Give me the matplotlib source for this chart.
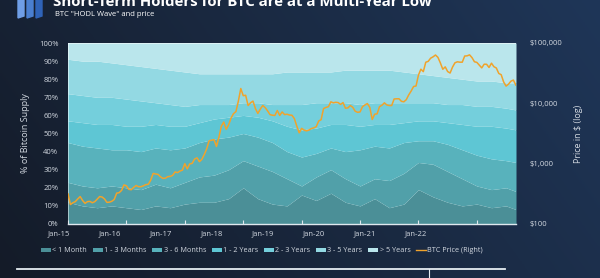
import numpy as np
import matplotlib
matplotlib.use("Agg")
import matplotlib.pyplot as plt
from matplotlib.patches import Patch, Polygon
from matplotlib.lines import Line2D

# HODL wave: cumulative tops of each band (% of supply), quarterly
t_bands = [2015.0, 2015.25, 2015.5, 2015.75, 2016.0, 2016.25, 2016.5, 2016.75,
           2017.0, 2017.25, 2017.5, 2017.75, 2018.0, 2018.25, 2018.5, 2018.75,
           2019.0, 2019.25, 2019.5, 2019.75, 2020.0, 2020.25, 2020.5, 2020.75,
           2021.0, 2021.25, 2021.5, 2021.75, 2022.0, 2022.25, 2022.5, 2022.67]
top_1m = [12, 10, 9, 10, 9, 8, 10, 9, 11, 12, 12, 14, 20, 14, 11, 10,
          16, 13, 17, 12, 10, 14, 9, 11, 19, 15, 12, 10, 11, 9, 10, 8]
top_3m = [23, 21, 20, 21, 20, 19, 22, 20, 23, 26, 27, 30, 35, 32, 29, 25,
          21, 26, 30, 25, 21, 25, 24, 28, 34, 33, 29, 25, 21, 19, 20, 18]
top_6m = [45, 43, 42, 41, 41, 40, 42, 41, 42, 45, 47, 48, 50, 48, 45, 40,
          37, 39, 42, 40, 41, 43, 42, 45, 46, 46, 44, 41, 38, 36, 35, 34]
top_2y = [57, 56, 55, 55, 54, 54, 55, 54, 54, 56, 58, 59, 60, 59, 57, 54,
          52, 53, 55, 55, 54, 55, 55, 56, 57, 57, 56, 55, 54, 54, 53, 52]
top_3y = [72, 71, 70, 70, 69, 68, 67, 66, 65, 66, 66, 66, 67, 67, 66, 66,
          66, 67, 67, 67, 66, 67, 67, 67, 67, 67, 66, 66, 65, 65, 64, 63]
top_5y = [91, 90, 90, 89, 88, 87, 86, 85, 84, 83, 83, 83, 83, 83, 83, 84,
          84, 84, 84, 85, 85, 85, 85, 84, 83, 82, 81, 80, 79, 79, 78, 78]

band_names = ["< 1 Month", "1 - 3 Months", "3 - 6 Months", "1 - 2 Years",
              "2 - 3 Years", "3 - 5 Years", "> 5 Years"]
band_colors = ["#4b8f97", "#51a0a9", "#58b2bc", "#5ec6d4",
               "#74cfdc", "#93d9e3", "#bae6ec"]

# BTC price, 1st and 15th of each month from Jan-15
btc_price = [315, 210, 225, 235, 260, 285, 245, 220, 235, 237, 225, 235,
             258, 285, 280, 260, 228, 230, 238, 255, 325, 330, 360, 445,
             430, 375, 370, 405, 435, 415, 415, 430, 450, 455, 535, 690,
             675, 665, 605, 570, 575, 610, 615, 640, 730, 710, 755, 780,
             1000, 820, 990, 1010, 1190, 1250, 1080, 1180, 1420, 1770, 2400, 2450,
             2500, 1930, 2730, 4180, 4900, 3700, 4400, 5700, 6750, 7300, 10900, 17600,
             13400, 13600, 9200, 10200, 10900, 8200, 6800, 8000, 9200, 8500, 7500, 6500,
             6350, 6300, 7600, 6300, 7200, 6500, 6600, 6400, 6350, 5600, 4200, 3250,
             3850, 3600, 3500, 3600, 3820, 3920, 4100, 5100, 5350, 8200, 8550, 8800,
             10600, 10200, 10400, 10300, 9600, 10300, 8300, 8400, 9200, 8600, 7400, 7100,
             7200, 8800, 9400, 9900, 8600, 5400, 6600, 6700, 8800, 9300, 10200, 9400,
             9200, 9200, 11800, 11900, 11900, 10800, 10600, 11500, 13800, 16000, 19000, 19400,
             29400, 36800, 33500, 48000, 49600, 56000, 59000, 63200, 57800, 46800, 36700, 40200,
             33600, 31800, 39900, 47000, 48800, 48100, 48100, 60800, 61300, 63600, 57200, 48900,
             47700, 43100, 38700, 44500, 44400, 39300, 46300, 40500, 38500, 31300, 29800, 22600,
             19300, 20800, 23300, 24300, 20100]
t_price = [2015 + i / 24 for i in range(len(btc_price))]

year_labels = ["Jan-15", "Jan-16", "Jan-17", "Jan-18", "Jan-19", "Jan-20", "Jan-21", "Jan-22"]
pct_labels = [f"{v}%" for v in range(0, 101, 10)]
price_ticks = [100, 1000, 10000, 100000]
price_labels = ["$100", "$1,000", "$10,000", "$100,000"]

txt = "#d2d8e0"
plt.rcParams["font.family"] = ["Open Sans", "DejaVu Sans"]

fig = plt.figure(figsize=(6, 2.78), dpi=100)

# dark gradient background
bg = fig.add_axes([0, 0, 1, 1])
gx = np.linspace(0, 1, 200)
gy = np.linspace(0, 1, 100)[:, None]
c0 = np.array([0x14, 0x1b, 0x28]) / 255
c1 = np.array([0x1f, 0x36, 0x58]) / 255
mix = np.clip(0.75 * gx[None, :] + 0.25 * gy, 0, 1)[..., None]
bg.imshow(c0 * (1 - mix) + c1 * mix, extent=[0, 1, 0, 1], aspect="auto", origin="lower")
bg.axis("off")

ax = fig.add_axes([68 / 600, 54 / 278, 448 / 600, 181 / 278])
lows = [np.zeros(len(t_bands))] + [np.array(a, float) for a in (top_1m, top_3m, top_6m, top_2y, top_3y, top_5y)]
highs = lows[1:] + [np.full(len(t_bands), 100.0)]
for lo, hi, c in zip(lows, highs, band_colors):
    ax.fill_between(t_bands, lo, hi, color=c, lw=0)

ax.set_xlim(2015.0, 2022.67)
ax.set_ylim(0, 100)
ax.set_yticks(range(0, 101, 10))
ax.set_yticklabels(pct_labels)
ax.set_xticks(range(2015, 2023))
ax.set_xticklabels([])
ax.tick_params(axis="y", length=0, labelsize=5.5, colors=txt, pad=7)
ax.tick_params(axis="x", direction="in", length=3, color="#e0e8ee", width=0.8)
for s in ("top", "left", "right"):
    ax.spines[s].set_visible(False)
ax.spines["bottom"].set_color("#dfe8ee")
ax.spines["bottom"].set_linewidth(1.0)
ax.set_ylabel("% of Bitcoin Supply", color=txt, fontsize=6.5, labelpad=6)

# x labels (sit a bit left of the tick marks in the original)
xtr = ax.get_xaxis_transform()
for k, lab in enumerate(year_labels):
    ax.text(2015 - 0.154 + 0.8716 * k, -0.055, lab, transform=xtr, ha="center", va="center",
            fontsize=5.5, color=txt, clip_on=False)

ax2 = ax.twinx()
ax2.plot(t_price, btc_price, color="#f0a32c", lw=1.1)
ax2.set_yscale("log")
ax2.set_ylim(100, 100000)
ax2.set_yticks(price_ticks)
ax2.set_yticklabels(price_labels)
ax2.minorticks_off()
ax2.tick_params(axis="y", length=0, labelsize=5.5, colors=txt, pad=10)
for s in ax2.spines.values():
    s.set_visible(False)
ax2.set_ylabel("Price in $ (log)", color=txt, fontsize=6.5, labelpad=8)

handles = [Patch(facecolor=c, edgecolor="none") for c in band_colors]
handles.append(Line2D([], [], color="#f0a32c", lw=1.0))
leg = fig.legend(handles, band_names + ["BTC Price (Right)"], loc="center",
                 bbox_to_anchor=(262 / 600, 1 - 251 / 278), ncol=8, frameon=False,
                 fontsize=5.2, handlelength=1.4, handleheight=0.6, handletextpad=0.2,
                 columnspacing=0.75, labelcolor=txt)

# title, subtitle and logo (top is cropped in the original)
fig.text(53 / 600, 1 - 6 / 278, "Short-Term Holders for BTC are at a Multi-Year Low",
         fontsize=10.8, fontweight="bold", color="white", va="baseline")
fig.text(55 / 600, 1 - 15 / 278, 'BTC "HODL Wave" and price', fontsize=5.5,
         color="white", va="center")
for i, c in enumerate(["#6f9ee6", "#4a7fd0", "#2f63b8"]):
    x0 = (18 + i * 9) / 600
    pts = [(x0, 1 - 18 / 278), (x0 + 6 / 600, 1 - 16 / 278),
           (x0 + 6 / 600, 1.0), (x0, 1.0)]
    fig.patches.append(Polygon(pts, closed=True, transform=fig.transFigure, color=c))

# rule below the legend
fig.add_artist(Line2D([17 / 600, 505 / 600], [1 - 269 / 278] * 2, color="#e6edf2",
                      lw=1.3, transform=fig.transFigure))
fig.add_artist(Line2D([429 / 600] * 2, [1 - 269 / 278, 0], color="#e6edf2",
                      lw=0.8, transform=fig.transFigure))

fig.savefig("out.png", dpi=100)
